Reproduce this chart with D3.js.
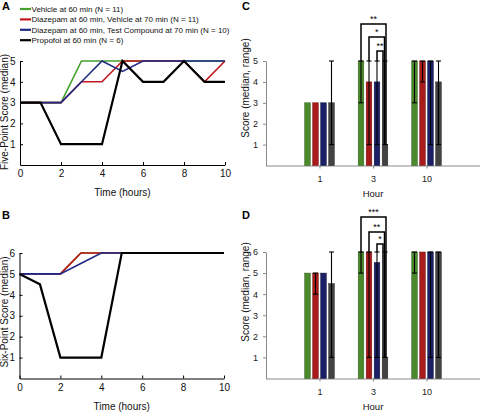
<!DOCTYPE html>
<html><head><meta charset="utf-8">
<script src="https://cdn.jsdelivr.net/npm/d3@7"></script>
<style>
html,body{margin:0;padding:0;background:#fff;}
svg{display:block;font-family:"Liberation Sans",Arial,sans-serif;}
</style></head>
<body><svg id="chart" width="480" height="413"></svg>
<script>
// ---------------- DATA ----------------
const seriesNames = [
  "Vehicle at 60 min (N = 11)",
  "Diazepam at 60 min, Vehicle at 70 min (N = 11)",
  "Diazepam at 60 min, Test Compound at 70 min (N = 10)",
  "Propofol at 60 min (N = 6)"
];
const timeHours = [0,1,2,3,4,5,6,7,8,9,10];
const timeTicks = [0,2,4,6,8,10];

// Panel A: Five-point score (median)
const vehicleA   = [3,3,3,5,5,5,5,5,5,5,5];
const diazVehA   = [3,3,3,4,4,5,5,5,5,4,5];
const diazTestA  = [3,3,3,4,5,4.5,5,5,5,5,5];
const propofolA  = [3,3,1,1,1,5,4,4,5,4,4];
const ticksA = [1,2,3,4,5];

// Panel B: Six-point score (median)
const vehicleB   = [5,5,5,6,6,6,6,6,6,6,6];
const diazVehB   = [5,5,5,6,6,6,6,6,6,6,6];
const diazTestB  = [5,5,5,5.5,6,6,6,6,6,6,6];
const propofolB  = [5,4.5,1,1,1,6,6,6,6,6,6];
const ticksB = [1,2,3,4,5,6];

// Panels C/D: hours
const barHours = ["1","3","10"];

// Panel C: five-point score, median and range
const vehicleC    = [3,5,5];   const vehicleCLo  = [3,3,3];   const vehicleCHi  = [3,5,5];
const diazVehC    = [3,4,5];   const diazVehCLo  = [3,1,4];   const diazVehCHi  = [3,5,5];
const diazTestC   = [3,4,5];   const diazTestCLo = [3,1,1];   const diazTestCHi = [3,5,5];
const propofolC   = [3,1,4];   const propofolCLo = [1,1,1];   const propofolCHi = [5,5,5];
const sigLabelsC = ["**","*","**"];
const sigFromC   = [0,1,2];   // series index compared with propofol at hour 3

// Panel D: six-point score, median and range
const vehicleD    = [5,6,6];   const vehicleDLo  = [5,5,5];   const vehicleDHi  = [5,6,6];
const diazVehD    = [5,6,6];   const diazVehDLo  = [4,1,6];   const diazVehDHi  = [5,6,6];
const diazTestD   = [5,5.5,6]; const diazTestDLo = [5,1,1];   const diazTestDHi = [5,6,6];
const propofolD   = [4.5,1,6]; const propofolDLo = [1,1,1];   const propofolDHi = [6,6,6];
const sigLabelsD = ["***","**","*"];
const sigFromD   = [0,1,2];

// ---------------- STYLE ----------------
const lineColors = ["#45a02c","#c4161c","#1f2a86","#000000"];
const lineWidths = [1.6,1.6,1.6,2.2];
const barColors  = ["#4b8a2c","#a91b1b","#1b1f66","#424242"];
const barStroke  = ["#2f5a1a","#6a0f0f","#0e1038","#222222"];

const svg = d3.select("#chart");
const FONT = '"Liberation Sans",Arial,sans-serif';
const intFmt = d3.format("d");

// ---------------- LINE PANELS ----------------
function linePanel(cfg){
  const x = d3.scaleLinear().domain([0,10]).range(cfg.xr);
  const y = d3.scaleLinear().domain([0,cfg.ymax]).range(cfg.yr);
  const g = svg.append("g");
  const xa = g.append("g").attr("transform",`translate(0,${cfg.yr[0]})`)
    .call(d3.axisBottom(x).tickValues(timeTicks).tickFormat(intFmt).tickSizeInner(-3).tickSizeOuter(0).tickPadding(5));
  const ya = g.append("g").attr("transform",`translate(${cfg.xr[0]},0)`)
    .call(d3.axisLeft(y).tickValues(cfg.ticks).tickFormat(intFmt).tickSizeInner(-3).tickSizeOuter(0).tickPadding(4.5));
  [xa,ya].forEach(a=>{
    a.selectAll("path.domain").attr("stroke","#000").attr("stroke-width",1);
    a.selectAll("line").attr("stroke","#000");
    a.selectAll("text").attr("font-size",10).attr("font-family",FONT).attr("fill","#111");
  });
  const line = d3.line().x((d,i)=>x(timeHours[i])).y(d=>y(d));
  cfg.series.forEach((s,i)=>{
    g.append("path").attr("d",line(s)).attr("fill","none")
      .attr("stroke",lineColors[i]).attr("stroke-width",lineWidths[i])
      .attr("stroke-linejoin","miter");
  });
  g.append("text").attr("x",(cfg.xr[0]+cfg.xr[1])/2).attr("y",cfg.yr[0]+31)
    .attr("text-anchor","middle").attr("font-size",10).attr("font-family",FONT).attr("fill","#111")
    .text("Time (hours)");
  g.append("text").attr("transform",`translate(${cfg.ylabX},${cfg.ylabY}) rotate(-90)`)
    .attr("text-anchor","middle").attr("font-size",10).attr("font-family",FONT).attr("fill","#111")
    .text(cfg.ylabel);
  g.append("text").attr("x",cfg.lx).attr("y",cfg.ly).attr("font-size",11).attr("font-weight","bold")
    .attr("font-family",FONT).text(cfg.letter);
}

linePanel({xr:[20,225], yr:[165,61], ymax:5, ticks:ticksA,
  series:[vehicleA,diazVehA,diazTestA,propofolA],
  ylabel:"Five-Point Score (median)", ylabX:7.5, ylabY:112, letter:"A", lx:2, ly:10});
linePanel({xr:[19.5,224], yr:[378.5,253], ymax:6, ticks:ticksB,
  series:[vehicleB,diazVehB,diazTestB,propofolB],
  ylabel:"Six-Point Score (median)", ylabX:7.5, ylabY:312, letter:"B", lx:2, ly:219});

// legend
const legY0 = 9, legStep = 10.4;
seriesNames.forEach((n,i)=>{
  const yy = legY0 + i*legStep;
  svg.append("line").attr("x1",20).attr("x2",31).attr("y1",yy).attr("y2",yy)
    .attr("stroke",lineColors[i]).attr("stroke-width",2.2);
  svg.append("text").attr("x",31.5).attr("y",yy+3).attr("font-size",8)
    .attr("font-family",FONT).attr("fill","#111").text(n);
});

// ---------------- BAR PANELS ----------------
function barPanel(cfg){
  const x = d3.scalePoint().domain(barHours).range([cfg.x0+53.5, cfg.x1-53.5]);
  const y = d3.scaleLinear().domain([0,cfg.ymax]).range(cfg.yr);
  const g = svg.append("g");
  const bw = 5.6, step = 8;
  const offs = [-1.5,-0.5,0.5,1.5].map(k=>k*step);
  const xa = g.append("g").attr("transform",`translate(0,${cfg.yr[0]})`)
    .call(d3.axisBottom(x).tickSizeInner(3).tickSizeOuter(0).tickPadding(7));
  xa.select("path.domain").attr("d",`M${cfg.x0},0.5H${cfg.x1}`);
  const ya = g.append("g").attr("transform",`translate(${cfg.x0},0)`)
    .call(d3.axisLeft(y).tickValues(cfg.ticks).tickFormat(intFmt).tickSizeInner(3).tickSizeOuter(0).tickPadding(5));
  [xa,ya].forEach(a=>{
    a.selectAll("path.domain").attr("stroke","#8a8a8a").attr("stroke-width",1);
    a.selectAll("line").attr("stroke","#8a8a8a");
    a.selectAll("text").attr("font-size",9).attr("font-family",FONT).attr("fill","#222");
  });
  cfg.series.forEach((s,i)=>{
    s.v.forEach((v,j)=>{
      const cx = x(barHours[j]) + offs[i];
      g.append("rect").attr("x",cx-bw/2).attr("width",bw)
        .attr("y",y(v)).attr("height",y(0)-y(v))
        .attr("fill",barColors[i]).attr("stroke",barStroke[i]).attr("stroke-width",0.5);
    });
  });
  // error bars (range)
  cfg.series.forEach((s,i)=>{
    s.v.forEach((v,j)=>{
      const lo=s.lo[j], hi=s.hi[j];
      if(lo===hi) return;
      const cx = x(barHours[j]) + offs[i];
      g.append("line").attr("x1",cx).attr("x2",cx).attr("y1",y(lo)).attr("y2",y(hi))
        .attr("stroke","#000").attr("stroke-width",1.1);
      [lo,hi].forEach(e=>{
        g.append("line").attr("x1",cx-2.5).attr("x2",cx+2.5).attr("y1",y(e)).attr("y2",y(e))
          .attr("stroke","#000").attr("stroke-width",1.1);
      });
    });
  });
  // significance brackets at hour 3
  const h = barHours[1];
  const grayX = x(h) + offs[3];
  cfg.sigFrom.forEach((si,k)=>{
    const lx = x(h) + offs[si];
    const rx = grayX + [1,-0.5,-2][k];
    const by = cfg.bracketY[k];
    const topL = y(cfg.series[si].hi[1]);
    const botR = y(cfg.series[3].v[1]);
    g.append("path").attr("d",`M${lx},${topL}V${by}H${rx}V${botR}`)
      .attr("fill","none").attr("stroke","#000").attr("stroke-width",1.5);
    g.append("text").attr("x",(lx+rx)/2).attr("y",by-2.5).attr("text-anchor","middle")
      .attr("font-size",9).attr("font-family",FONT).attr("fill","#000").text(cfg.sigLabels[k]);
  });
  g.append("text").attr("x",x(barHours[1])).attr("y",cfg.yr[0]+31)
    .attr("text-anchor","middle").attr("font-size",9.5).attr("font-family",FONT).attr("fill","#111")
    .text("Hour");
  g.append("text").attr("transform",`translate(${cfg.ylabX},${cfg.ylabY}) rotate(-90)`)
    .attr("text-anchor","middle").attr("font-size",10).attr("font-family",FONT).attr("fill","#111")
    .text("Score (median, range)");
  g.append("text").attr("x",cfg.lx).attr("y",cfg.ly).attr("font-size",11).attr("font-weight","bold")
    .attr("font-family",FONT).text(cfg.letter);
}

barPanel({x0:266, x1:480, yr:[165.5,61], ymax:5, ticks:ticksA,
  series:[{v:vehicleC,lo:vehicleCLo,hi:vehicleCHi},{v:diazVehC,lo:diazVehCLo,hi:diazVehCHi},
          {v:diazTestC,lo:diazTestCLo,hi:diazTestCHi},{v:propofolC,lo:propofolCLo,hi:propofolCHi}],
  sigFrom:sigFromC, sigLabels:sigLabelsC, bracketY:[24,37,51],
  ylabX:249, ylabY:88, letter:"C", lx:242, ly:10});
barPanel({x0:266, x1:480, yr:[378.5,252], ymax:6, ticks:ticksB,
  series:[{v:vehicleD,lo:vehicleDLo,hi:vehicleDHi},{v:diazVehD,lo:diazVehDLo,hi:diazVehDHi},
          {v:diazTestD,lo:diazTestDLo,hi:diazTestDHi},{v:propofolD,lo:propofolDLo,hi:propofolDHi}],
  sigFrom:sigFromD, sigLabels:sigLabelsD, bracketY:[217,232,244],
  ylabX:249, ylabY:292, letter:"D", lx:242, ly:219});
</script>
</body></html>
